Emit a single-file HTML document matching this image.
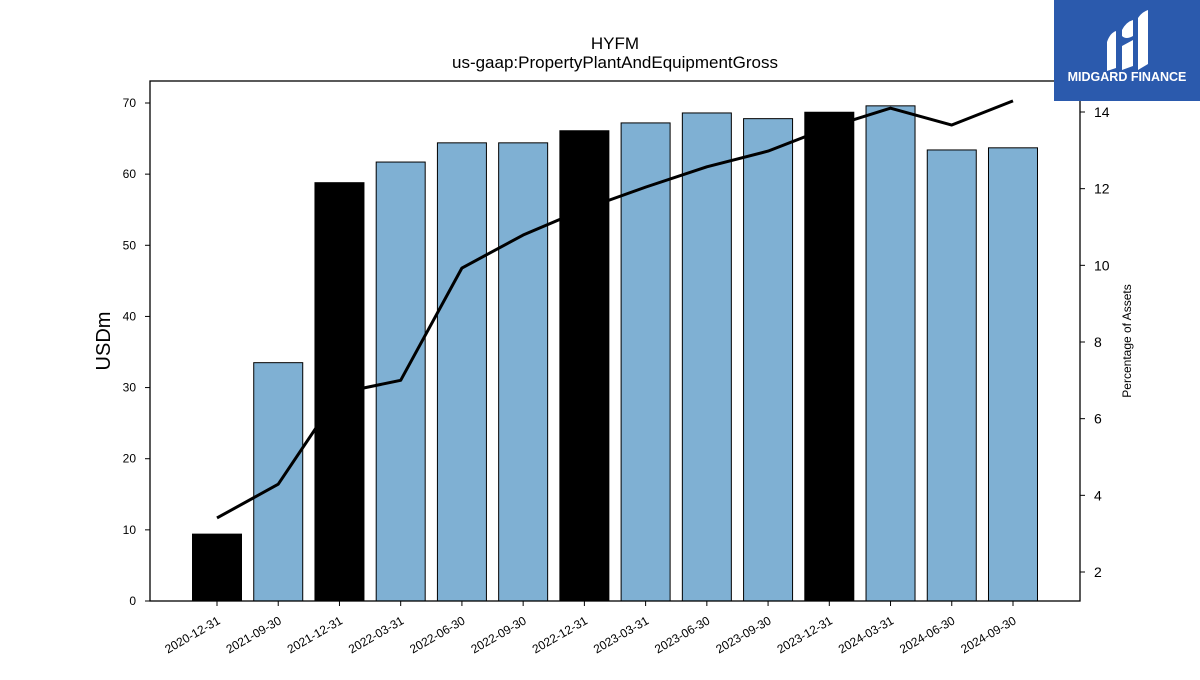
<!DOCTYPE html>
<html><head><meta charset="utf-8"><style>
body{margin:0;background:#fff;font-family:"Liberation Sans",sans-serif;}
svg text{font-family:"Liberation Sans",sans-serif;}
</style></head><body>
<svg id="chart" width="1200" height="675" xmlns="http://www.w3.org/2000/svg">
<text x="615" y="49" text-anchor="middle" font-size="17">HYFM</text>
<text x="615" y="68" text-anchor="middle" font-size="17">us-gaap:PropertyPlantAndEquipmentGross</text>
<g id="bars"></g>
<g id="axes"></g>
<text transform="translate(110,341) rotate(-90)" text-anchor="middle" font-size="20">USDm</text>
<text transform="translate(1131,341) rotate(-90)" text-anchor="middle" font-size="12">Percentage of Assets</text>
<g>
<rect x="1054" y="0" width="146" height="101" fill="#2b5aad"/>
<path d="M1107 42 Q1110 33 1116 31 L1116 68 L1107 71 Z" fill="#fff"/>
<path d="M1122 30 Q1126 22 1133 20 L1133 36 Q1126 40 1122 36 Z M1122 46 L1133 40 L1133 66 L1122 70 Z" fill="#fff"/>
<path d="M1138 18 Q1142 12 1148 10 L1148 64 L1138 70 Z" fill="#fff"/>
<text x="1127" y="81" text-anchor="middle" font-size="12.5" font-weight="bold" fill="#fff">MIDGARD FINANCE</text>
</g>
</svg>
<script>
const categories=["2020-12-31","2021-09-30","2021-12-31","2022-03-31","2022-06-30","2022-09-30","2022-12-31","2023-03-31","2023-06-30","2023-09-30","2023-12-31","2024-03-31","2024-06-30","2024-09-30"];
const values=[9.4,33.5,58.8,61.7,64.4,64.4,66.1,67.2,68.6,67.8,68.7,69.6,63.4,63.7];
const pctAssets=[3.41,4.29,6.67,7.0,9.93,10.79,11.47,12.04,12.57,12.98,13.6,14.1,13.66,14.29];
const annual=[true,false,true,false,false,false,true,false,false,false,true,false,false,false];
const leftTicks=[0,10,20,30,40,50,60,70];
const rightTicks=[2,4,6,8,10,12,14];
const NS="http://www.w3.org/2000/svg";
const L=150,R=1080,T=81,B=601;
const yL=v=>601-v*(498/70);
const yR=v=>572-(v-2)*(460/12);
const step=61.23;
const xC=i=>217+i*step;
function mk(tag,at,parent){const e=document.createElementNS(NS,tag);for(const k in at)e.setAttribute(k,at[k]);parent.appendChild(e);return e;}
const bars=document.getElementById('bars'),axes=document.getElementById('axes');
values.forEach((v,i)=>{
 const r=mk('rect',{x:xC(i)-24.5,y:yL(v),width:49,height:B-yL(v),fill:annual[i]?'#000':'#7fb0d3',stroke:'#000','stroke-width':1},bars);
 
 
});
const pts=pctAssets.map((v,i)=>xC(i)+','+yR(v)).join(' ');
const line=mk('polyline',{points:pts,fill:'none',stroke:'#000','stroke-width':3,'stroke-linejoin':'round'},bars);


const frame=mk('rect',{x:L,y:T,width:R-L,height:B-T,fill:'none',stroke:'#000','stroke-width':1.3},axes);


leftTicks.forEach(t=>{
 mk('line',{x1:L-5,x2:L,y1:yL(t),y2:yL(t),stroke:'#000'},axes);
 const tx=mk('text',{x:L-14,y:yL(t)+4,'text-anchor':'end','font-size':12},axes);tx.textContent=t;
 
 
});
rightTicks.forEach(t=>{
 mk('line',{x1:R,x2:R+5,y1:yR(t),y2:yR(t),stroke:'#000'},axes);
 const tx=mk('text',{x:R+14,y:yR(t)+5,'font-size':14},axes);tx.textContent=t;
 
 
});
categories.forEach((c,i)=>{
 mk('line',{x1:xC(i),x2:xC(i),y1:B,y2:B+5,stroke:'#000'},axes);
 const tx=mk('text',{transform:`translate(${xC(i)+4},${B+22}) rotate(-30)`,'text-anchor':'end','font-size':12},axes);tx.textContent=c;
 
 
});
</script>
</body></html>
